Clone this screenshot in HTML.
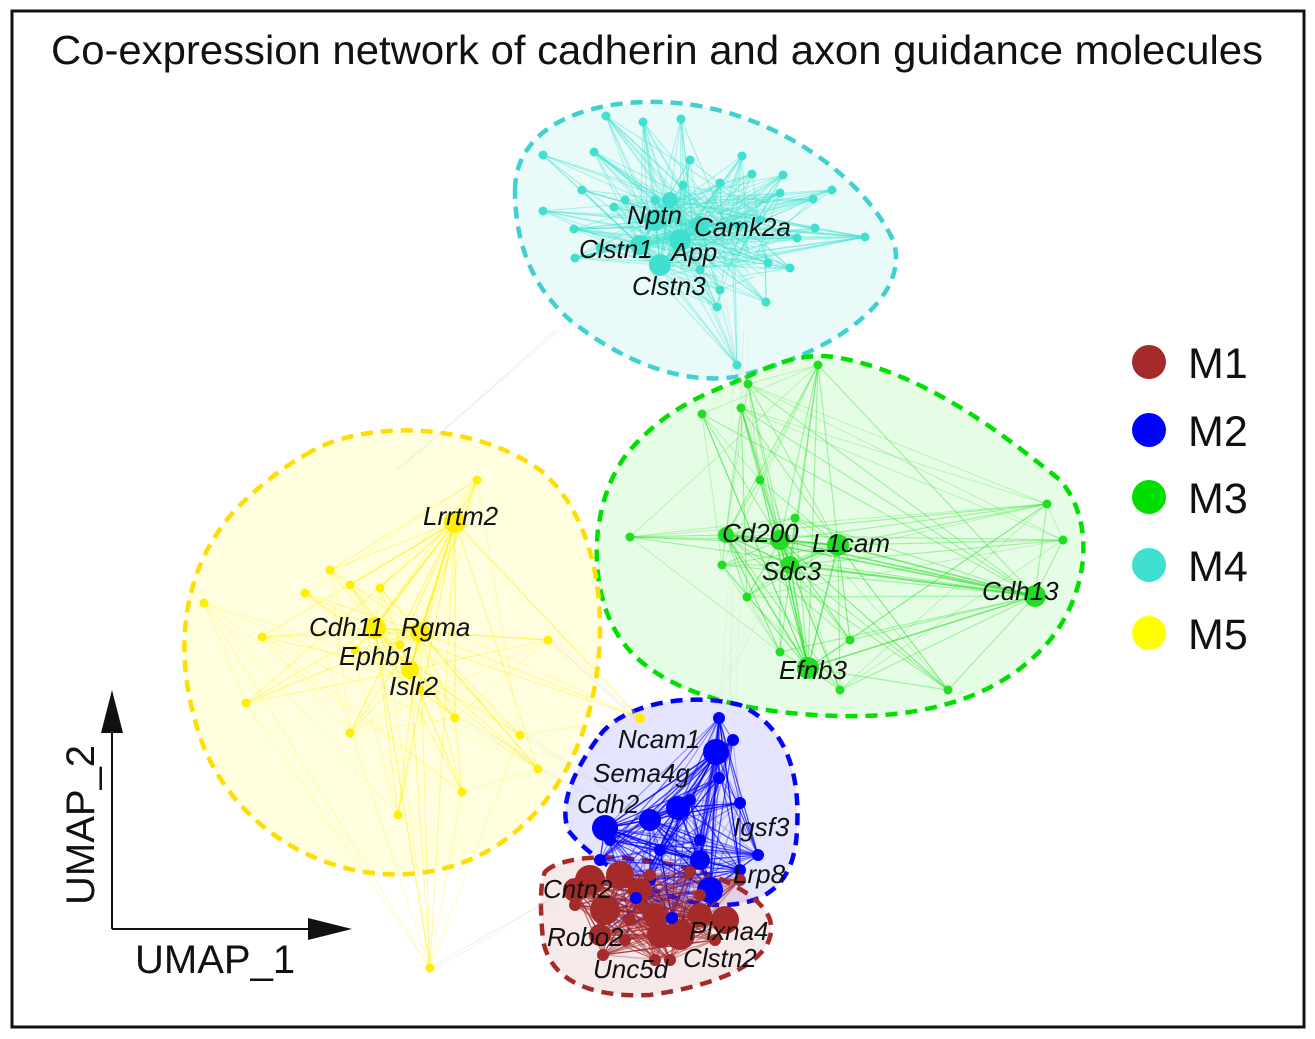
<!DOCTYPE html>
<html><head><meta charset="utf-8"><style>
html,body{margin:0;padding:0;background:#fff}
svg{display:block}
text{font-family:"Liberation Sans",Arial,sans-serif}
.lb{font-style:italic;font-size:26px;fill:#111}
</style></head><body>
<svg id="s" width="1315" height="1039" viewBox="0 0 1315 1039" xmlns="http://www.w3.org/2000/svg">
<rect x="12" y="11" width="1292" height="1016" fill="#fff" stroke="#111" stroke-width="3"/>
<text x="657" y="64" font-size="41" text-anchor="middle" fill="#111" textLength="1212" lengthAdjust="spacingAndGlyphs">Co-expression network of cadherin and axon guidance molecules</text>
<g id="hulls">
<path d="M515 190 C515 130 580 100 660 102 C760 104 860 170 893 240 C912 295 840 352 735 377 C680 385 620 360 570 320 C530 285 515 240 515 190 Z" fill="#40e0d0" fill-opacity="0.12" stroke="#40d0d0" stroke-width="4.5" stroke-dasharray="12 8"/>
<path d="M745 378 C780 360 810 352 840 358 C930 375 1010 440 1060 480 C1095 520 1090 590 1050 640 C1000 700 920 718 840 716 C740 714 660 690 625 645 C585 595 588 500 630 450 C670 405 710 392 745 378 Z" fill="#00e000" fill-opacity="0.10" stroke="#00e000" stroke-width="4.5" stroke-dasharray="12 8"/>
<path d="M305 455 C360 420 470 420 540 470 C600 520 610 620 592 700 C572 790 510 862 420 873 C320 885 220 820 195 720 C172 640 186 560 240 505 C262 484 282 468 305 455 Z" fill="#ffff00" fill-opacity="0.12" stroke="#ffdd00" stroke-width="4.5" stroke-dasharray="12 8"/>
<path d="M600 735 C625 703 690 692 740 705 C790 728 800 780 797 830 C795 880 770 905 720 905 C660 905 590 860 568 830 C558 800 578 765 600 735 Z" fill="#0000ff" fill-opacity="0.10" stroke="#0000ff" stroke-width="4.5" stroke-dasharray="12 8"/>
<path d="M545 872 C560 856 610 855 640 860 C700 865 760 890 770 920 C780 960 720 985 650 995 C590 998 550 980 543 940 C540 910 540 882 545 872 Z" fill="#a52a2a" fill-opacity="0.10" stroke="#a52a2a" stroke-width="4.5" stroke-dasharray="12 8"/>
</g>
<g id="edges"></g>
<g id="nodes"></g>
<g>
<text class="lb" x="627" y="224">Nptn</text>
<text class="lb" x="694" y="236">Camk2a</text>
<text class="lb" x="579" y="258">Clstn1</text>
<text class="lb" x="671" y="261">App</text>
<text class="lb" x="632" y="295">Clstn3</text>
<text class="lb" x="722" y="542">Cd200</text>
<text class="lb" x="812" y="552">L1cam</text>
<text class="lb" x="762" y="580">Sdc3</text>
<text class="lb" x="982" y="600">Cdh13</text>
<text class="lb" x="779" y="679">Efnb3</text>
<text class="lb" x="423" y="525">Lrrtm2</text>
<text class="lb" x="309" y="636">Cdh11</text>
<text class="lb" x="401" y="636">Rgma</text>
<text class="lb" x="339" y="665">Ephb1</text>
<text class="lb" x="389" y="695">Islr2</text>
<text class="lb" x="618" y="748">Ncam1</text>
<text class="lb" x="593" y="782">Sema4g</text>
<text class="lb" x="577" y="813">Cdh2</text>
<text class="lb" x="733" y="836">Igsf3</text>
<text class="lb" x="733" y="883">Lrp8</text>
<text class="lb" x="543" y="898">Cntn2</text>
<text class="lb" x="547" y="946">Robo2</text>
<text class="lb" x="689" y="940">Plxna4</text>
<text class="lb" x="683" y="967">Clstn2</text>
<text class="lb" x="593" y="978">Unc5d</text>
</g>
<g>
<circle cx="1149" cy="362" r="17" fill="#a52a2a"/>
<circle cx="1149" cy="430" r="17" fill="#0000ff"/>
<circle cx="1149" cy="497" r="17" fill="#00e000"/>
<circle cx="1149" cy="565" r="17" fill="#40e0d0"/>
<circle cx="1149" cy="633" r="17" fill="#ffff00"/>
<text x="1188" y="378" font-size="43" fill="#111">M1</text>
<text x="1188" y="446" font-size="43" fill="#111">M2</text>
<text x="1188" y="513" font-size="43" fill="#111">M3</text>
<text x="1188" y="581" font-size="43" fill="#111">M4</text>
<text x="1188" y="649" font-size="43" fill="#111">M5</text>
</g>
<g>
<line x1="112" y1="929" x2="112" y2="730" stroke="#111" stroke-width="2"/>
<polygon points="112,690 101,733 123,733" fill="#111"/>
<line x1="112" y1="929" x2="312" y2="929" stroke="#111" stroke-width="2"/>
<polygon points="352,929 308,918 308,940" fill="#111"/>
<text x="135" y="973" font-size="40" fill="#111">UMAP_1</text>
<text transform="translate(94,905) rotate(-90)" font-size="40" fill="#111">UMAP_2</text>
</g>
</svg>
<script>
var C={
c:{col:'#40e0d0',n:[[606,116],[643,122],[681,119],[543,155],[594,152],[690,160],[742,156],[752,174],[783,175],[683,185],[720,183],[582,190],[625,200],[655,200],[780,193],[832,190],[813,199],[543,211],[614,207],[574,229],[815,228],[865,237],[797,238],[575,258],[790,268],[768,263],[766,302],[717,307],[737,365],[739,225],[600,248],[720,290],[700,270],[760,220]],h:[[655,220,11],[680,240,11],[660,265,11],[640,245,10],[700,225,9],[670,200,8]]},
g:{col:'#22dd22',n:[[748,384],[818,365],[702,414],[741,408],[630,537],[795,518],[785,563],[722,565],[747,597],[1047,504],[1063,540],[850,640],[780,652],[840,690],[948,690],[760,480]],h:[[726,535,8],[780,540,10],[838,545,11],[1035,596,11],[808,668,11],[790,565,9]]},
y:{col:'#ffee00',n:[[477,480],[204,603],[262,637],[330,570],[305,593],[350,585],[355,650],[400,645],[548,640],[420,690],[455,718],[246,703],[350,733],[398,815],[462,792],[538,769],[520,735],[430,968],[640,718],[380,588]],h:[[455,522,11],[375,628,11],[420,632,10],[410,670,9]]},
b:{col:'#0000ff',n:[[719,718],[733,740],[719,778],[740,803],[758,855],[636,898],[672,918],[610,840],[660,850],[700,840],[690,800],[740,870],[600,860],[650,880]],h:[[716,752,13],[678,808,12],[605,828,13],[710,890,13],[650,820,11],[700,860,10]]},
r:{col:'#a52a2a',n:[[650,875],[690,872],[655,960],[603,955],[630,920],[700,895],[740,880],[640,905],[575,905],[715,940],[670,960],[625,940]],h:[[590,880,15],[620,875,14],[605,910,15],[680,935,15],[725,920,14],[660,935,13],[700,915,12],[575,890,12],[640,890,12],[600,935,11],[655,915,12]]}
};
var seed=7;function rnd(){seed=(seed*16807)%2147483647;return seed/2147483647;}
var E=document.getElementById('edges'),N=document.getElementById('nodes'),ns='http://www.w3.org/2000/svg';
function ln(a,b,col,op,w){var l=document.createElementNS(ns,'line');l.setAttribute('x1',a[0]);l.setAttribute('y1',a[1]);l.setAttribute('x2',b[0]);l.setAttribute('y2',b[1]);l.setAttribute('stroke',col);l.setAttribute('stroke-opacity',op);l.setAttribute('stroke-width',w);E.appendChild(l);}
function ci(p,r,col){var c=document.createElementNS(ns,'circle');c.setAttribute('cx',p[0]);c.setAttribute('cy',p[1]);c.setAttribute('r',r);c.setAttribute('fill',col);N.appendChild(c);}
[[[737,365],[748,384]],[[720,300],[760,480]],[[740,330],[730,700]],[[760,600],[700,720]],[[455,718],[600,800]],[[538,769],[605,828]],[[430,968],[590,880]],[[400,470],[560,330]],[[520,735],[650,820]],[[548,640],[640,720]]].forEach(function(e){for(var i=0;i<4;i++)ln([e[0][0]+rnd()*20-10,e[0][1]],[e[1][0]+rnd()*20-10,e[1][1]],'#ccc',0.15,1);});
for(var k in C){var c=C[k],all=c.n.concat(c.h);var op=0.35;
 c.n.forEach(function(p){c.h.forEach(function(h){if(rnd()<0.8)ln(p,h,c.col,op,1.2);});if(k!='c')for(var j=0;j<3;j++){var q=all[Math.floor(rnd()*all.length)];ln(p,q,c.col,op*0.7,1);}});
 for(var i=0;i<c.h.length;i++)for(var j=i+1;j<c.h.length;j++)ln(c.h[i],c.h[j],c.col,0.6,1.5);
 if(k=='c'){for(var t=0;t<150;t++){var a=c.n[Math.floor(rnd()*c.n.length)],b=[650+rnd()*120,200+rnd()*80];ln(a,b,c.col,0.4,1.2);}}
 if(k=='b'||k=='r'){for(var t=0;t<160;t++){var a=all[Math.floor(rnd()*all.length)],b=all[Math.floor(rnd()*all.length)];ln(a,b,c.col,0.45,1.2);}}
}
for(var t=0;t<40;t++){var a=C.b.h[Math.floor(rnd()*C.b.h.length)],b=C.r.h.concat(C.r.n)[Math.floor(rnd()*20)];ln(a,b,'#0000ff',0.3,1);}
for(var k in C){var c=C[k];c.n.forEach(function(p){ci(p,k=='r'||k=='b'?6:4.5,c.col);});c.h.forEach(function(h){ci(h,h[2],c.col);});}
ci([636,898],6,'#0000ff');ci([672,918],6,'#0000ff');ci([640,718],5,'#ffee00');
</script>
</body></html>
